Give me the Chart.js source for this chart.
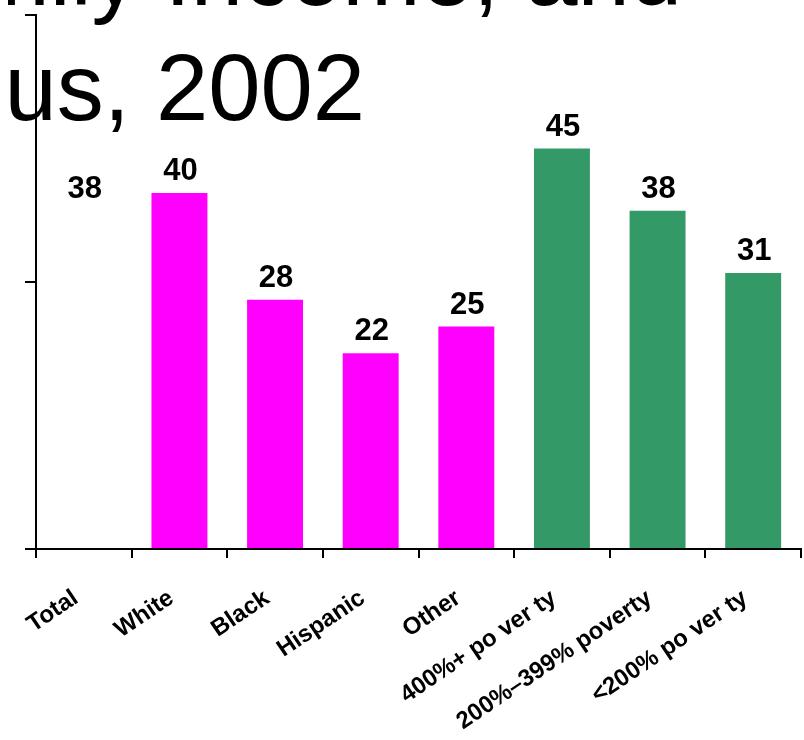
<!DOCTYPE html>
<html>
<head>
<meta charset="utf-8">
<title>Family Income, and Insurance Status, 2002</title>
<script src="https://cdn.jsdelivr.net/npm/chart.js@4/dist/chart.umd.min.js"></script>
<style>
  body { margin: 0; background: #fff; }
  #myChart { display: block; }
</style>
</head>
<body>
<canvas id="myChart" width="804" height="740"></canvas>
<script>
// groups along the x axis
var labels = ['Total', 'White', 'Black', 'Hispanic', 'Other',
              '400%+ po ver ty', '200%\u2013399% poverty', '<200% po ver ty'];
// percent for each group
var values = [38, 40, 28, 22, 25, 45, 38, 31];
// total bar is left blank, race in magenta, income in green
var colors = ['#FFFFFF', '#FF00FF', '#FF00FF', '#FF00FF', '#FF00FF',
              '#339966', '#339966', '#339966'];
var yTicks = [0, 30, 60];
var titleLines = ['by Race/Ethnicity, Family Income, and', 'Insurance Status, 2002'];

var FONT = '"Liberation Sans", Arial, sans-serif';

// numbers above each bar
var valueLabels = {
    id: 'valueLabels',
    afterDatasetsDraw: function(chart){
        var ctx = chart.ctx;
        var meta = chart.getDatasetMeta(0);
        ctx.save();
        ctx.font = 'bold 31px ' + FONT;
        ctx.fillStyle = '#000';
        ctx.textAlign = 'center';
        ctx.textBaseline = 'alphabetic';
        meta.data.forEach(function(bar, i){
            ctx.fillText(values[i], bar.x + 1, bar.y - 13);
        });
        ctx.restore();
    }
};

// big heading, cut off on the left like the slide it came from
var bigTitle = {
    id: 'bigTitle',
    afterDraw: function(chart){
        var ctx = chart.ctx;
        ctx.save();
        ctx.beginPath();
        ctx.rect(8, 0, chart.width - 8, chart.height);
        ctx.clip();
        ctx.font = '94px ' + FONT;
        ctx.fillStyle = '#000';
        ctx.textAlign = 'right';
        ctx.textBaseline = 'alphabetic';
        ctx.fillText(titleLines[0], 682, 5);
        ctx.fillText(titleLines[1], 365, 120);
        ctx.restore();
    }
};

var ctx = document.getElementById('myChart').getContext('2d');
var chart = new Chart(ctx, {
    type: 'bar',
    data: {
        labels: labels,
        datasets: [{
            data: values,
            backgroundColor: colors,
            borderWidth: 0,
            categoryPercentage: 1,
            barPercentage: 0.585
        }]
    },
    options: {
        responsive: false,
        animation: false,
        layout: { padding: { left: 25, top: 15, right: 3, bottom: 0 } },
        plugins: {
            legend: { display: false },
            tooltip: { enabled: false }
        },
        scales: {
            x: {
                offset: true,
                border: { display: true, color: '#000', width: 2 },
                grid: {
                    offset: true,
                    drawOnChartArea: false,
                    drawTicks: true,
                    tickLength: 9,
                    color: '#000',
                    lineWidth: 2
                },
                ticks: {
                    autoSkip: false,
                    minRotation: 34,
                    maxRotation: 34,
                    padding: 26,
                    labelOffset: -8,
                    color: '#000',
                    font: { family: FONT, size: 24, weight: 'bold' }
                },
                afterFit: function(scale){ scale.height = 191; }
            },
            y: {
                min: 0,
                max: 60,
                afterBuildTicks: function(scale){
                    scale.ticks = yTicks.map(function(v){ return { value: v }; });
                },
                border: { display: true, color: '#000', width: 2 },
                grid: {
                    drawOnChartArea: false,
                    drawTicks: true,
                    tickLength: 11,
                    color: '#000',
                    lineWidth: 2
                },
                ticks: { display: false },
                afterFit: function(scale){ scale.width = 11; }
            }
        }
    },
    plugins: [valueLabels, bigTitle]
});
</script>
</body>
</html>
